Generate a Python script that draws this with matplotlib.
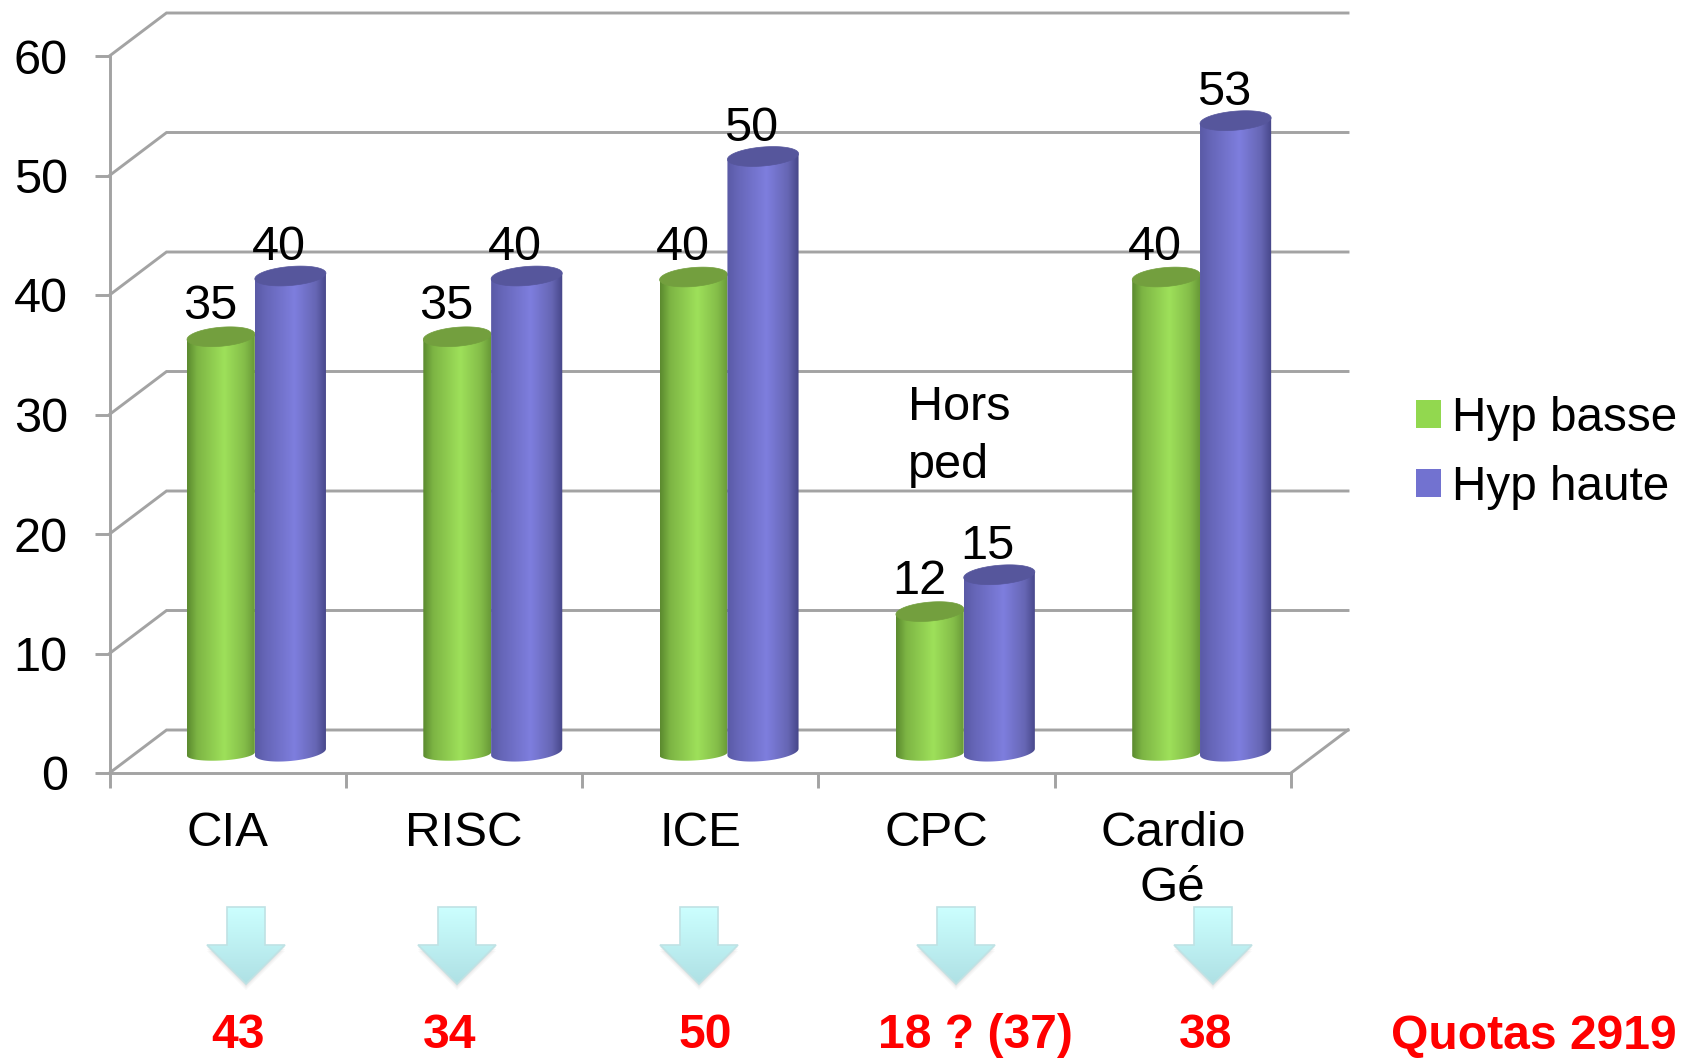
import numpy as np
import matplotlib
matplotlib.use('Agg')
import matplotlib.pyplot as plt
from matplotlib.colors import to_rgb
from matplotlib.patches import Patch, Polygon

plt.rcParams['font.family'] = ['Liberation Sans', 'DejaVu Sans']

# === DATA ===
categories = ["CIA", "RISC", "ICE", "CPC", "Cardio\nGé"]
hyp_basse = [35, 35, 40, 12, 40]
hyp_haute = [40, 40, 50, 15, 53]
y_ticks = [0, 10, 20, 30, 40, 50, 60]
quota_labels = ["43", "34", "50", "18 ? (37)", "38"]
quota_title = "Quotas 2919"

W, H = 1682, 1059
GRAY = "#a3a3a3"
FS = 35
LW = 2.1

# pixel geometry of the front plane of the fake 3D box
X0, X1, Y0, Y60 = 109.5, 1291, 773, 56
PX_X = (X1 - X0) / 5
PX_Y = (Y0 - Y60) / 60
DEPTH_X = 57 / PX_X
DEPTH_Y = 43 / PX_Y

GREEN_STOPS = [(0, "#5b8a2f"), (0.15, "#7db544"), (0.55, "#9ee05a"), (0.85, "#84bd49"), (1, "#699a38")]
BLUE_STOPS = [(0, "#5a5aa6"), (0.15, "#6666b8"), (0.55, "#7e7ede"), (0.85, "#6666b4"), (1, "#464688")]


def make_gradient(stops, n=128, vertical=False):
    pos = [s[0] for s in stops]
    rgb = np.array([to_rgb(s[1]) for s in stops])
    t = np.linspace(0, 1, n)
    grad = np.stack([np.interp(t, pos, rgb[:, c]) for c in range(3)], axis=-1)
    return grad[:, None, :] if vertical else grad[None, :, :]


def draw_cylinder(ax, left, right, value, base, top_base, ry_bot, tilt_bot, stops, top_color, zorder):
    # left/right in category units, value/base in axis units
    xc = (left + right) / 2
    rx = (right - left) / 2
    top = value + top_base
    ry_top = 9.5 / PX_Y
    k = rx * PX_X / PX_Y
    t = np.linspace(0, np.pi, 60)
    # lower half of the bottom ellipse, tilted up to the right like the original
    xb = xc - rx * np.cos(t)
    yb = base - ry_bot * np.sin(t) - tilt_bot * k * np.cos(t)
    # side outline goes up the right, across the top centre, back down the left
    xt = xc + rx * np.cos(t)
    yt = top + 0.08 * k * np.cos(t)
    body = Polygon(np.column_stack([np.r_[xb, xt], np.r_[yb, yt]]),
                   closed=True, transform=ax.transData, fc="none", ec="none")
    ax.add_patch(body)
    im = ax.imshow(make_gradient(stops), extent=(left, right, base - 2, top + 2),
                   aspect='auto', zorder=zorder, interpolation='bilinear')
    im.set_clip_path(body)

    # top cap
    a = np.linspace(0, 2 * np.pi, 90)
    xe = xc + rx * np.cos(a)
    ye = top + ry_top * np.sin(a) + 0.08 * k * np.cos(a)
    ax.fill(xe, ye, fc=top_color, ec=top_color, lw=0.5, zorder=zorder + 0.1)


# === FIGURE ===
fig = plt.figure(figsize=(W / 100, H / 100), dpi=100)
ax = fig.add_axes([X0 / W, 1 - Y0 / H, (X1 - X0) / W, (Y0 - Y60) / H])
ax.patch.set_alpha(0)

# gridlines and box edges
for v in y_ticks:
    ax.plot([0, DEPTH_X, 5 + DEPTH_X], [v, v + DEPTH_Y, v + DEPTH_Y],
            color=GRAY, lw=LW, clip_on=False, zorder=1, solid_joinstyle='miter')
ax.plot([5, 5 + DEPTH_X], [0, DEPTH_Y], color=GRAY, lw=LW, clip_on=False, zorder=1)

# bars
GREEN_L, MID, BLUE_R = 0.328, 0.615, 0.916
for i in range(len(categories)):
    draw_cylinder(ax, i + GREEN_L, i + MID, hyp_basse[i], 19 / PX_Y, 18 / PX_Y, 6.5 / PX_Y, 0.05,
                  GREEN_STOPS, "#739f3e", 3)
    draw_cylinder(ax, i + MID, i + BLUE_R, hyp_haute[i], 21 / PX_Y, 19 / PX_Y, 9 / PX_Y, 0.09,
                  BLUE_STOPS, "#56569c", 4)
    ax.text(i + GREEN_L + 0.098, hyp_basse[i] + 48 / PX_Y, str(hyp_basse[i]),
            ha='center', va='center', fontsize=FS, color='black', zorder=6)
    ax.text(i + MID + 0.1, hyp_haute[i] + 47 / PX_Y, str(hyp_haute[i]),
            ha='center', va='center', fontsize=FS, color='black', zorder=6)

ax.set_xlim(0, 5)
ax.set_ylim(0, 60)

# axes, ticks
for side in ['top', 'right']:
    ax.spines[side].set_visible(False)
for side in ['left', 'bottom']:
    ax.spines[side].set_color(GRAY)
    ax.spines[side].set_linewidth(LW)
ax.set_yticks(y_ticks)
ax.set_yticklabels([str(v) for v in y_ticks], fontsize=FS)
ax.tick_params(axis='y', length=10.5, width=LW, color=GRAY, pad=19.5)
ax.set_xticks(range(6))
ax.set_xticklabels([])
ax.tick_params(axis='x', which='major', length=10.5, width=LW, color=GRAY)
ax.set_xticks(np.arange(5) + 0.5, minor=True)
ax.set_xticklabels(categories, minor=True, fontsize=35.5, linespacing=1.3)
ax.tick_params(axis='x', which='minor', length=0, pad=27)

# overlay in pixel coordinates for the annotations
ov = fig.add_axes([0, 0, 1, 1])
ov.set_xlim(0, W)
ov.set_ylim(H, 0)
ov.axis('off')
ov.patch.set_alpha(0)

ov.text(908, 408, "Hors", ha='left', va='center', fontsize=FS)
ov.text(908, 466, "ped", ha='left', va='center', fontsize=FS)

# arrows
arrow_x = [246, 457, 699, 956, 1213]
quota_x = [238, 450, 705, 975, 1206]
arrow_fill = make_gradient([(0, "#ccffff"), (1, "#aee0e4")], vertical=True)
for cx in arrow_x:
    pts = np.array([(cx - 19, 907), (cx + 19, 907), (cx + 19, 945), (cx + 39, 945),
                    (cx, 984), (cx - 39, 945), (cx - 19, 945)])
    for off, alpha in [(6, 0.05), (4, 0.07), (2, 0.09)]:
        ov.add_patch(Polygon(pts + [0, off], closed=True, fc="#808080", ec="none", alpha=alpha, zorder=2))
    poly = Polygon(pts, closed=True, fc="none", ec="#bfe2e4", lw=1.2, zorder=4)
    ov.add_patch(poly)
    im = ov.imshow(arrow_fill, extent=(cx - 40, cx + 40, 985, 906), aspect='auto', zorder=3)
    im.set_clip_path(poly)
ov.set_xlim(0, W)
ov.set_ylim(H, 0)

# moved up a few px so the brackets stay inside the picture
for x, label in zip(quota_x, quota_labels):
    ov.text(x, 1036, label, ha='center', va='center', fontsize=34.6, fontweight='bold', color='#ff0000')
ov.text(1534, 1036, quota_title, ha='center', va='center', fontsize=34.6, fontweight='bold', color='#ff0000')

# legend
handles = [Patch(fc="#92d84f", ec="none"), Patch(fc="#7272d0", ec="none")]
fig.legend(handles, ["Hyp basse", "Hyp haute"], loc='upper left', bbox_to_anchor=(1397 / W, 1 - 377 / H),
           frameon=False, fontsize=34.3, handlelength=0.52, handleheight=0.52, handletextpad=0.24,
           labelspacing=0.5, borderpad=0.4, borderaxespad=0)

fig.savefig("out.png", dpi=100)
